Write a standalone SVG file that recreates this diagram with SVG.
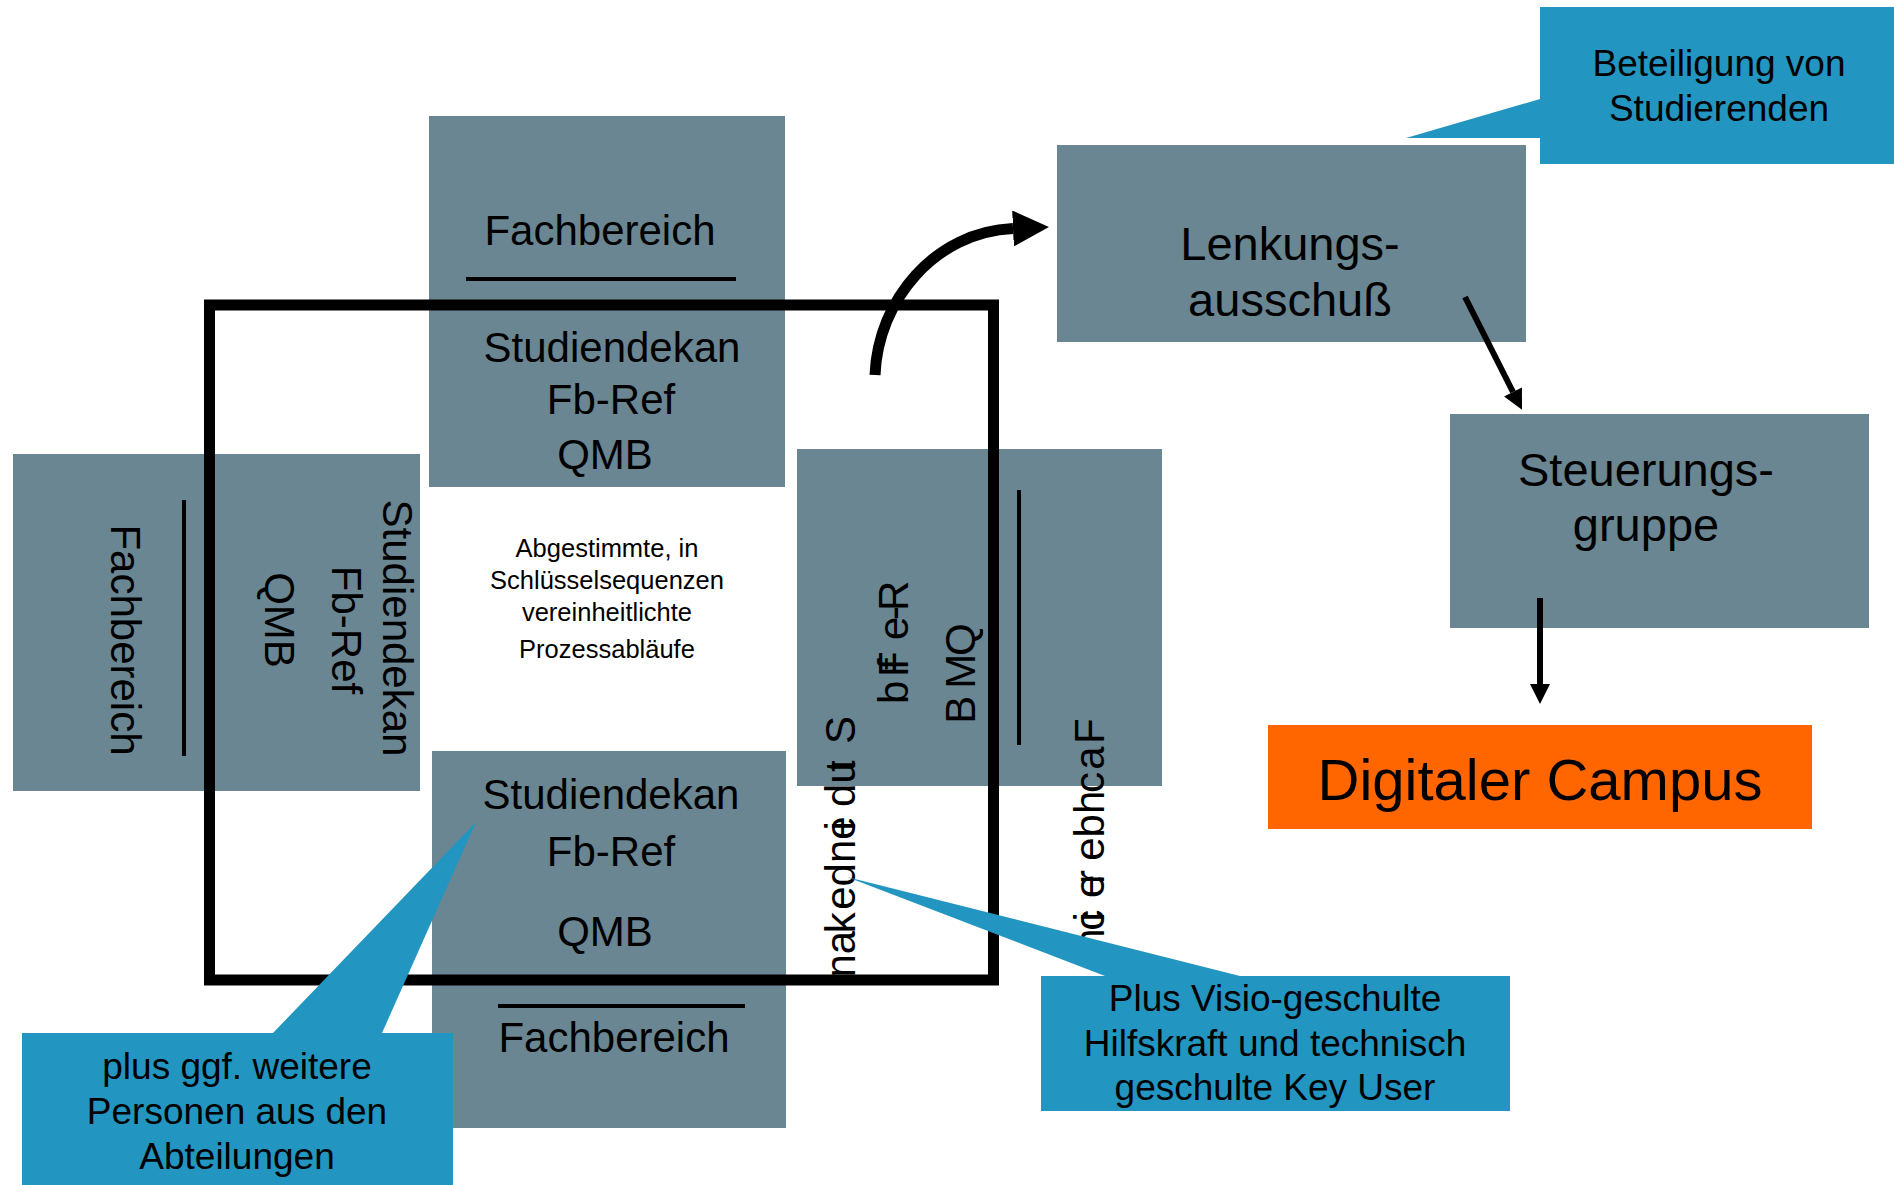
<svg xmlns="http://www.w3.org/2000/svg" width="1894" height="1185" viewBox="0 0 1894 1185">
<style>
text{font-family:"Liberation Sans",Arial,sans-serif;fill:#000}
.blk{fill:#6A8692}
.t42{font-size:42px}
.mid{text-anchor:middle}
.rule{stroke:#000;stroke-width:4}
.call{fill:#2296C1}
.t37{font-size:37px}
.t46{font-size:47px}
.conn{fill:none;stroke:#000}
</style>
<defs>
<marker id="ah" viewBox="0 0 10 10" refX="0" refY="5" markerWidth="25" markerHeight="20" markerUnits="userSpaceOnUse" orient="auto"><path d="M0,0 L10,5 L0,10 Z" fill="#000"/></marker>
<marker id="ahBig" viewBox="0 0 10 10" refX="0" refY="5" markerWidth="36" markerHeight="36" markerUnits="userSpaceOnUse" orient="auto"><path d="M0,0 L10,5 L0,10 Z" fill="#000"/></marker>
</defs>
<rect width="1894" height="1185" fill="#fff"/>

<g id="block-top">
<rect class="blk" x="429" y="116" width="356" height="371"/>
<text class="t42 mid" x="600" y="245">Fachbereich</text>
<line class="rule" x1="466" y1="279" x2="736" y2="279"/>
<text class="t42 mid" x="612" y="362">Studiendekan</text>
<text class="t42 mid" x="611" y="414">Fb-Ref</text>
<text class="t42 mid" x="605" y="469">QMB</text>
</g>

<g id="block-left">
<rect class="blk" x="13" y="454" width="407" height="337"/>
<line class="rule" x1="184" y1="500" x2="184" y2="756"/>
<text class="t42 mid" transform="translate(111,640) rotate(90)">Fachbereich</text>
<text class="t42 mid" transform="translate(383,628) rotate(90)">Studiendekan</text>
<text class="t42 mid" transform="translate(332,630) rotate(90)">Fb-Ref</text>
<text class="t42 mid" transform="translate(265,620) rotate(90)">QMB</text>
</g>

<g id="block-right">
<rect class="blk" x="797" y="449" width="365" height="337"/>
<line class="rule" x1="1019" y1="490" x2="1019" y2="745"/>
<text class="t42" transform="translate(855,744) rotate(90)" rotate="180">Studiendekan</text>
<text class="t42" transform="translate(908,0) rotate(90)" rotate="180" x="677 704 620 611 640 670" y="0">Fb-Ref</text>
<text class="t42" transform="translate(975,656) rotate(90)" rotate="180">QMB</text>
<text class="t42" transform="translate(1104,744) rotate(90)" rotate="180">Fachbereich</text>
</g>

<g id="block-bottom">
<rect class="blk" x="432" y="751" width="354" height="377"/>
<text class="t42 mid" x="611" y="809">Studiendekan</text>
<text class="t42 mid" x="611" y="866">Fb-Ref</text>
<text class="t42 mid" x="605" y="946">QMB</text>
<line class="rule" x1="498" y1="1006" x2="745" y2="1006"/>
<text class="t42 mid" x="614" y="1052">Fachbereich</text>
</g>

<g id="center-note">
<text class="mid" style="font-size:25.5px" x="607" y="557">Abgestimmte, in</text>
<text class="mid" style="font-size:25.5px" x="607" y="589">Schlüsselsequenzen</text>
<text class="mid" style="font-size:25.5px" x="607" y="621">vereinheitlichte</text>
<text class="mid" style="font-size:25.5px" x="607" y="658">Prozessabläufe</text>
</g>

<g id="frame">
<rect x="209.5" y="305" width="784" height="675" fill="none" stroke="#000" stroke-width="11"/>
</g>

<g id="lenkungsausschuss">
<rect class="blk" x="1057" y="145" width="469" height="197"/>
<text class="t46 mid" x="1290" y="260">Lenkungs-</text>
<text class="t46 mid" x="1290" y="316">ausschuß</text>
</g>

<g id="steuerungsgruppe">
<rect class="blk" x="1450" y="414" width="419" height="214"/>
<text class="t46 mid" x="1646" y="486">Steuerungs-</text>
<text class="t46 mid" x="1646" y="541">gruppe</text>
</g>

<g id="digitaler-campus">
<rect x="1268" y="725" width="544" height="104" fill="#FF6600"/>
<text class="mid" style="font-size:58px" x="1540" y="800">Digitaler Campus</text>
</g>

<g id="connectors">
<path class="conn" stroke-width="11" d="M875,375 C878,300 935,232 1013,228.5" marker-end="url(#ahBig)"/>
<line class="conn" stroke-width="6" x1="1465" y1="297" x2="1513" y2="392" marker-end="url(#ah)"/>
<line class="conn" stroke-width="6" x1="1540" y1="598" x2="1540" y2="684" marker-end="url(#ah)"/>
</g>

<g id="callout-studierende">
<path class="call" d="M1540,7 H1894 V164 H1540 V138 L1406,138 L1540,99 Z"/>
<text class="t37 mid" x="1719" y="76">Beteiligung von</text>
<text class="t37 mid" x="1719" y="121">Studierenden</text>
</g>

<g id="callout-abteilungen">
<path class="call" d="M22,1033 H273 L476,822 L382,1033 H453 V1185 H22 Z"/>
<text class="t37 mid" x="237" y="1079">plus ggf. weitere</text>
<text class="t37 mid" x="237" y="1124">Personen aus den</text>
<text class="t37 mid" x="237" y="1169">Abteilungen</text>
</g>

<g id="callout-visio">
<path class="call" d="M1041,976 H1105 L847,877 L1240,976 H1510 V1111 H1041 Z"/>
<text class="t37 mid" x="1275" y="1011">Plus Visio-geschulte</text>
<text class="t37 mid" x="1275" y="1056">Hilfskraft und technisch</text>
<text class="t37 mid" x="1275" y="1100">geschulte Key User</text>
</g>
</svg>
